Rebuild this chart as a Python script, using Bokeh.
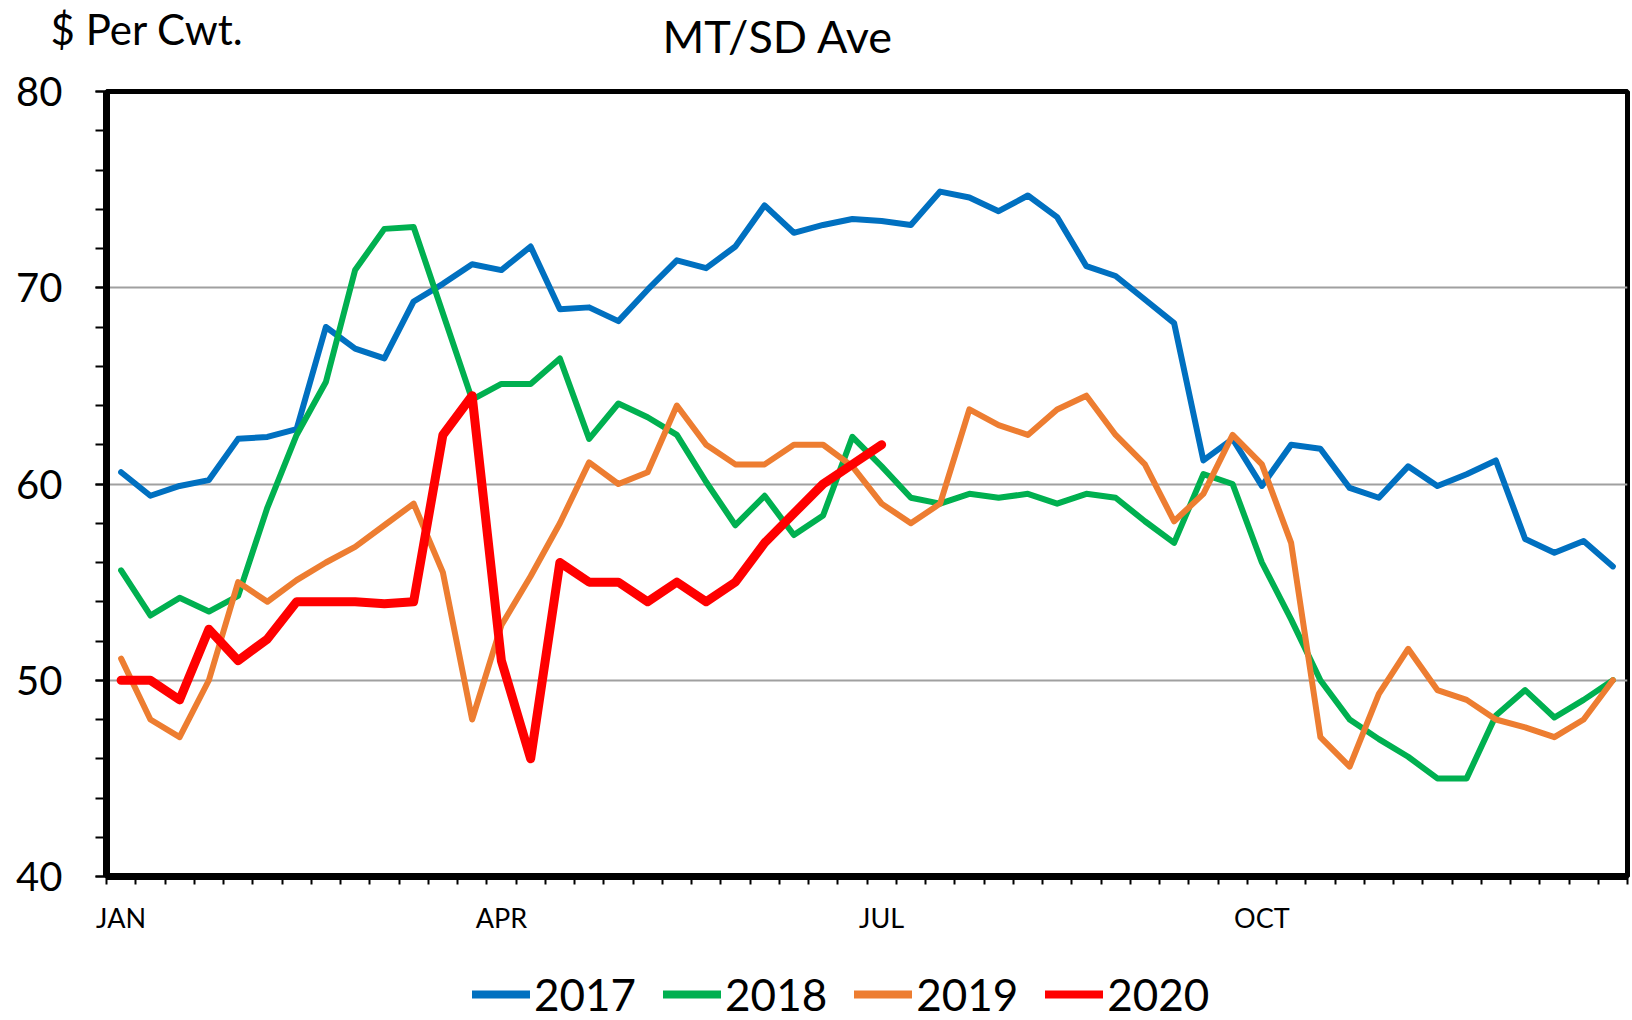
from bokeh.plotting import figure
from bokeh.layouts import column
from bokeh.models import (FixedTicker, Range1d, Legend, LegendItem,
                          Label, ColumnDataSource, LinearAxis)
from bokeh.embed import file_html
from bokeh.resources import INLINE

# ---------------- data ----------------
weeks = list(range(1, 53))
y2017 = [60.6, 59.4, 59.9, 60.2, 62.3, 62.4, 62.8, 68.0, 66.9, 66.4,
         69.3, 70.2, 71.2, 70.9, 72.1, 68.9, 69.0, 68.3, 69.9, 71.4,
         71.0, 72.1, 74.2, 72.8, 73.2, 73.5, 73.4, 73.2, 74.9, 74.6,
         73.9, 74.7, 73.6, 71.1, 70.6, 69.4, 68.2, 61.2, 62.3, 59.9,
         62.0, 61.8, 59.8, 59.3, 60.9, 59.9, 60.5, 61.2, 57.2, 56.5,
         57.1, 55.8]
y2018 = [55.6, 53.3, 54.2, 53.5, 54.3, 58.8, 62.5, 65.2, 70.9, 73.0,
         73.1, 68.7, 64.3, 65.1, 65.1, 66.4, 62.3, 64.1, 63.4, 62.5,
         60.1, 57.9, 59.4, 57.4, 58.4, 62.4, 60.9, 59.3, 59.0, 59.5,
         59.3, 59.5, 59.0, 59.5, 59.3, 58.1, 57.0, 60.5, 60.0, 56.0,
         53.1, 50.0, 48.0, 47.0, 46.1, 45.0, 45.0, 48.2, 49.5, 48.1,
         49.0, 50.0]
y2019 = [51.1, 48.0, 47.1, 50.0, 55.0, 54.0, 55.1, 56.0, 56.8, 57.9,
         59.0, 55.5, 48.0, 52.8, 55.3, 58.0, 61.1, 60.0, 60.6, 64.0,
         62.0, 61.0, 61.0, 62.0, 62.0, 60.9, 59.0, 58.0, 59.0, 63.8,
         63.0, 62.5, 63.8, 64.5, 62.5, 61.0, 58.1, 59.5, 62.5, 61.0,
         57.0, 47.1, 45.6, 49.3, 51.6, 49.5, 49.0, 48.0, 47.6, 47.1,
         48.0, 50.0]
y2020 = [50.0, 50.0, 49.0, 52.6, 51.0, 52.1, 54.0, 54.0, 54.0, 53.9,
         54.0, 62.5, 64.5, 51.0, 46.0, 56.0, 55.0, 55.0, 54.0, 55.0,
         54.0, 55.0, 57.0, 58.5, 60.0, 61.0, 62.0]

series_names = ["2017", "2018", "2019", "2020"]
series_values = [y2017, y2018, y2019, y2020]
series_colors = ["#0070C0", "#00B050", "#ED7D31", "#FF0000"]
series_widths = [6, 6, 6, 9]

month_labels = {1: "JAN", 14: "APR", 27: "JUL", 40: "OCT"}
week_bounds = [w - 0.5 for w in weeks] + [weeks[-1] + 0.5]
y_major = [40, 50, 60, 70, 80]
y_minor = list(range(40, 81, 2))
grid_levels = [50, 60, 70]

title_text = "MT/SD Ave"
unit_text = "$ Per Cwt."

FONT = "Lato"
W = 1632
HEAD_H = 64

# ---------------- header (unit label + title) ----------------
head = figure(width=W, height=HEAD_H, output_backend="svg", toolbar_location=None,
              x_range=Range1d(0, 1), y_range=Range1d(0, HEAD_H),
              x_axis_location=None, y_axis_location=None, min_border=0)
head.outline_line_color = None
head.grid.visible = False
# the unit text is carried by a left axis of the header strip
unit_axis = LinearAxis(ticker=FixedTicker(ticks=[36]),
                       major_label_overrides={36: unit_text})
unit_axis.axis_line_color = None
unit_axis.major_tick_line_color = None
unit_axis.minor_tick_line_color = None
unit_axis.major_tick_out = 0
unit_axis.major_tick_in = 0
unit_axis.major_label_text_font = FONT
unit_axis.major_label_text_font_size = "42px"
unit_axis.major_label_text_color = "black"
unit_axis.major_label_standoff = -137
head.add_layout(unit_axis, "left")
head.add_layout(Label(x=556, y=29, x_units="screen", y_units="screen",
                      text=title_text, text_font=FONT, text_font_size="45px",
                      text_baseline="alphabetic", text_color="black"))

# ---------------- main plot ----------------
p = figure(width=W, height=876, output_backend="svg", toolbar_location=None,
           x_range=Range1d(0.5, 52.5), y_range=Range1d(40, 80),
           min_border_left=106, min_border_right=5, min_border_top=27,
           min_border_bottom=64)
p.background_fill_color = "white"
p.border_fill_color = "white"
p.outline_line_color = "black"
p.outline_line_width = 5

ya = p.yaxis[0]
ya.ticker = FixedTicker(ticks=y_major, minor_ticks=y_minor)
ya.major_tick_in = 0
ya.major_tick_out = 11
ya.minor_tick_in = 0
ya.minor_tick_out = 11
ya.major_tick_line_width = 2
ya.minor_tick_line_width = 2
ya.axis_line_width = 7
ya.major_label_text_font = FONT
ya.major_label_text_font_size = "40px"
ya.major_label_text_color = "black"
ya.major_label_standoff = 33

xa = p.xaxis[0]
xa.ticker = FixedTicker(ticks=list(month_labels.keys()), minor_ticks=week_bounds)
xa.major_label_overrides = month_labels
xa.major_tick_line_color = None
xa.major_tick_in = 0
xa.major_tick_out = 0
xa.minor_tick_in = 0
xa.minor_tick_out = 8
xa.minor_tick_line_width = 2
xa.minor_tick_line_color = "black"
xa.axis_line_width = 7
xa.major_label_text_font = FONT
xa.major_label_text_font_size = "27px"
xa.major_label_text_color = "black"
xa.major_label_standoff = 16

p.xgrid.visible = False
p.ygrid.ticker = FixedTicker(ticks=grid_levels)
p.ygrid.grid_line_color = "#A0A0A0"
p.ygrid.grid_line_width = 2

for name, vals, col, lw in zip(series_names, series_values, series_colors, series_widths):
    src = ColumnDataSource(dict(week=weeks[:len(vals)], price=vals))
    p.line("week", "price", source=src, line_color=col, line_width=lw,
           line_join="round", line_cap="round")

# ---------------- legend strip ----------------
leg = figure(width=W, height=80, output_backend="svg", toolbar_location=None,
             x_range=Range1d(0, 1), y_range=Range1d(0, 1),
             x_axis_location=None, y_axis_location=None, min_border=0)
leg.outline_line_color = None
leg.grid.visible = False
items = []
for name, col in zip(series_names, series_colors):
    r = leg.line(x=[float("nan")], y=[float("nan")], line_color=col,
                 line_width=8, line_cap="round")
    items.append(LegendItem(label=name, renderers=[r]))
legend = Legend(items=items, orientation="horizontal", location=(366, 0))
legend.label_text_font = FONT
legend.label_text_font_size = "44px"
legend.label_text_color = "black"
legend.label_text_baseline = "middle"
legend.glyph_width = 58
legend.glyph_height = 20
legend.label_standoff = 4
legend.spacing = 27
legend.padding = 0
legend.margin = 0
legend.border_line_color = None
legend.background_fill_alpha = 0
leg.add_layout(legend, "center")

layout = column(head, p, leg, spacing=0)
open("out.html", "w").write(file_html(layout, INLINE))
